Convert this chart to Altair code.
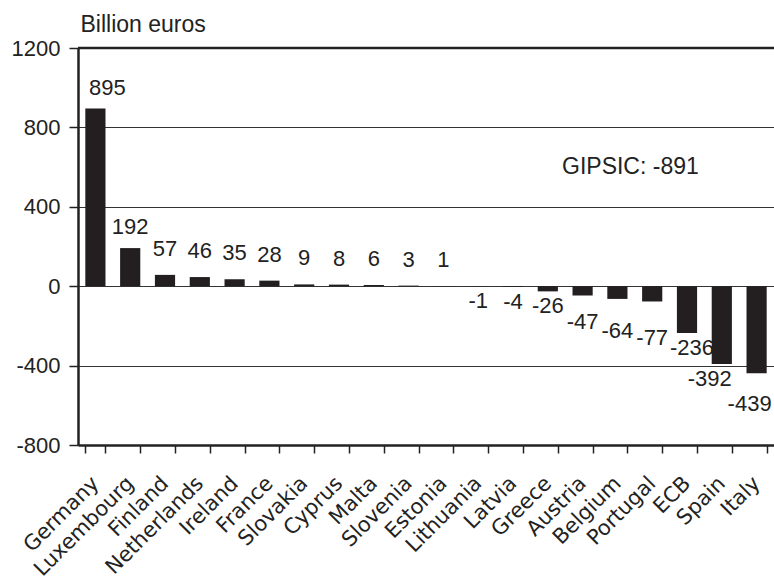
import altair as alt
import pandas as pd

countries = ["Germany", "Luxembourg", "Finland", "Netherlands", "Ireland", "France",
             "Slovakia", "Cyprus", "Malta", "Slovenia", "Estonia", "Lithuania", "Latvia",
             "Greece", "Austria", "Belgium", "Portugal", "ECB", "Spain", "Italy"]
values = [895, 192, 57, 46, 35, 28, 9, 8, 6, 3, 1, -1, -4, -26, -47, -64, -77, -236, -392, -439]
y_ticks = [-800, -400, 0, 400, 800, 1200]
note_text = "GIPSIC: -891"

df = pd.DataFrame({"country": countries, "value": values})

FONT = "Liberation Sans"
W, H = 696, 397

x_enc = alt.X("country:N", sort=countries,
              scale=alt.Scale(paddingInner=0.42, paddingOuter=0.21),
              axis=alt.Axis(title=None, labelAngle=-45, labelAlign="right", labelBaseline="middle",
                            labelFont="DejaVu Sans", labelFontSize=21, labelColor="#222",
                            labelPadding=27, tickBand="extent", tickSize=8, tickColor="#222",
                            tickWidth=1.5, domainColor="#222", domainWidth=2.5, grid=False,
                            labelOverlap=False))
y_scale = alt.Scale(domain=[-800, 1200], nice=False)

base = alt.Chart(df).transform_calculate(label="'' + datum.value")

bars = base.mark_bar(color="#231f20").encode(
    x=x_enc,
    y=alt.Y("value:Q", scale=y_scale,
            axis=alt.Axis(values=y_ticks, labelExpr="'' + datum.value",
                          title="Billion euros", titleAngle=0, titleAlign="left",
                          titleBaseline="alphabetic", titleX=2, titleY=-17, titleFont=FONT,
                          titleFontSize=23, titleFontWeight="normal", titleColor="#222",
                          labelFont=FONT, labelFontSize=22, labelColor="#222", labelPadding=9,
                          tickSize=9, tickColor="#222", tickWidth=1.5,
                          domainColor="#222", domainWidth=2.5,
                          grid=True, gridColor="#333", gridWidth=1.2)),
)

pos_labels = base.transform_filter(alt.datum.value >= 0).mark_text(
    baseline="alphabetic", font=FONT, fontSize=22, color="#222",
    dy=alt.expr("datum.value > 100 ? -14 : -19"),
    dx=alt.expr("datum.value > 800 ? 12 : 0"),
).encode(x=alt.X("country:N", sort=countries), y=alt.Y("value:Q", scale=y_scale),
         text="label:N")

neg_labels = base.transform_filter(alt.datum.value < 0).mark_text(
    baseline="top", font=FONT, fontSize=22, color="#222",
    dy=alt.expr("datum.value <= -40 && datum.value > -100 ? 16 + (-datum.value - 47) * 0.35 : (datum.value < -400 ? 21 : 5)"),
    dx=alt.expr("datum.value < -400 ? -7 : (datum.value < -300 ? -12 : (datum.value < -200 ? 5 : 0))"),
).encode(x=alt.X("country:N", sort=countries), y=alt.Y("value:Q", scale=y_scale),
         text="label:N")

top_rule = alt.Chart(pd.DataFrame({"y": [1200]})).mark_rule(color="#222", strokeWidth=2.5).encode(
    y=alt.Y("y:Q", scale=y_scale))

note = alt.Chart(pd.DataFrame({"country": ["Belgium"], "y": [600], "t": [note_text]})).mark_text(
    font=FONT, fontSize=23, color="#222", align="center", dx=13
).encode(x=alt.X("country:N", sort=countries), y=alt.Y("y:Q", scale=y_scale), text="t:N")

chart = alt.layer(bars, top_rule, pos_labels, neg_labels, note).properties(
    width=W, height=H,
    autosize=alt.AutoSizeParams(type="none"),
    padding={"left": 78, "top": 48, "right": 0, "bottom": 132},
).configure_view(stroke=None).configure(background="white")

chart.save("out.html", embed_options={"renderer": "svg", "actions": False})
